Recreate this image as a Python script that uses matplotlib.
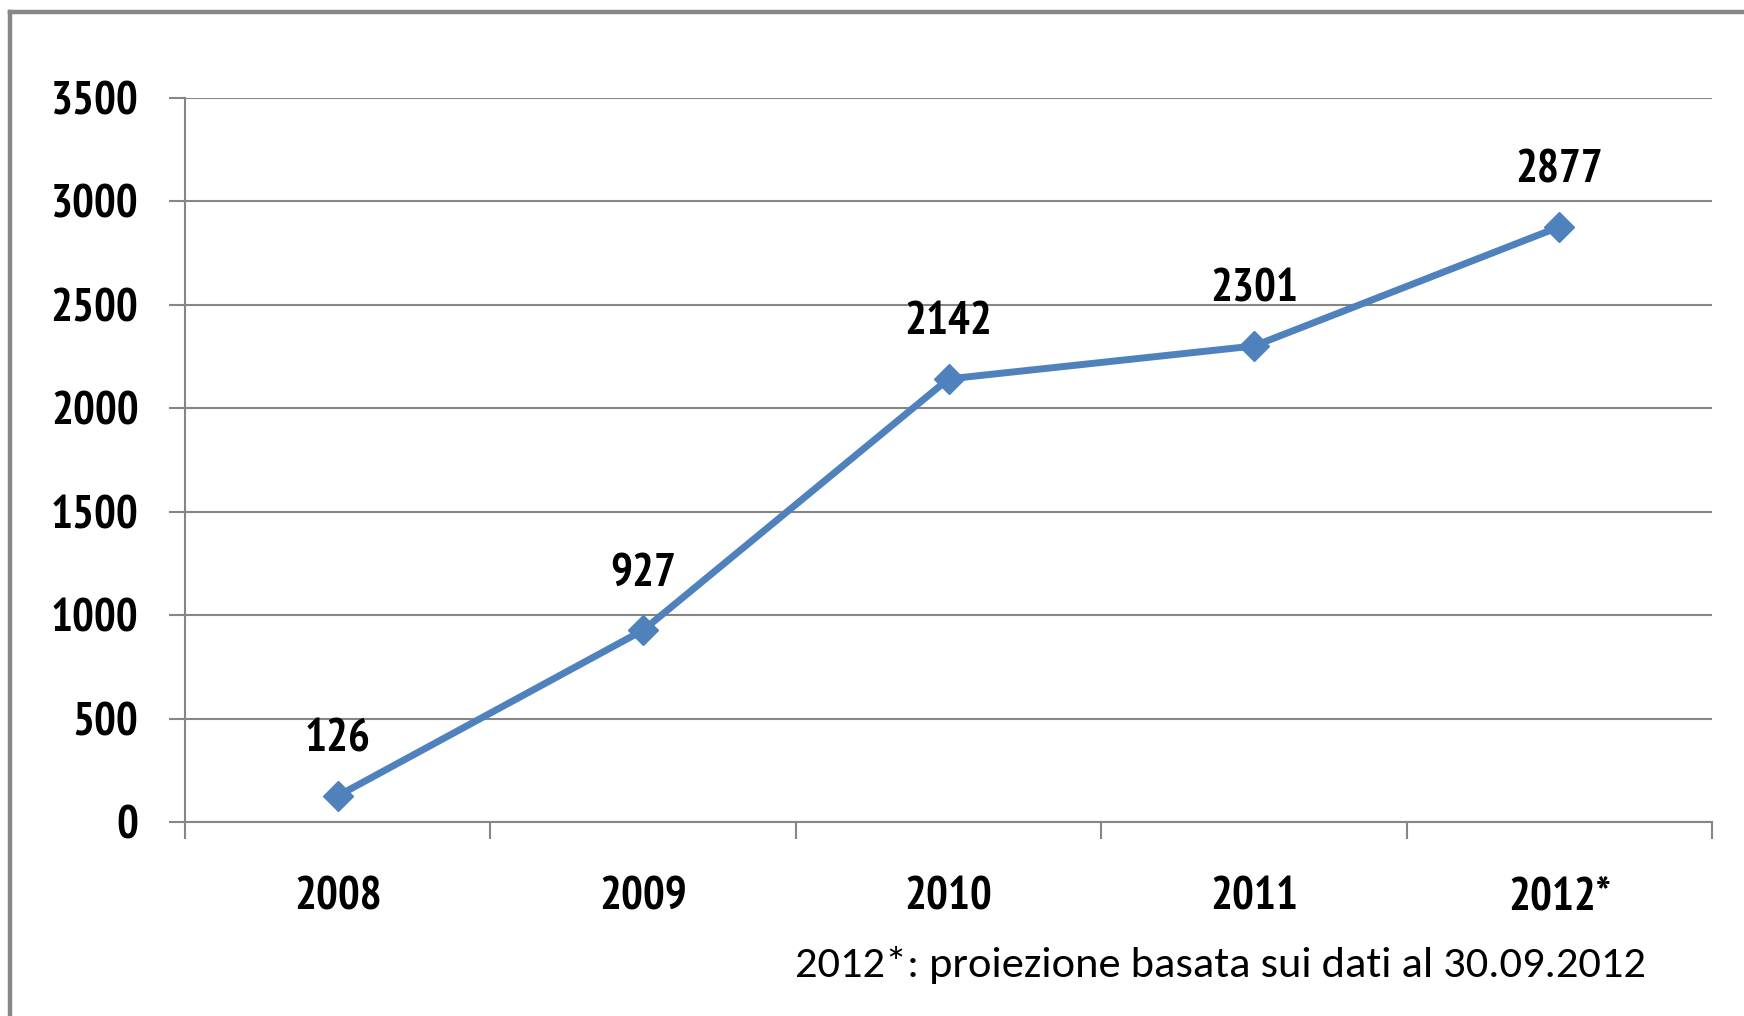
import matplotlib
matplotlib.use("Agg")
import matplotlib.pyplot as plt
from matplotlib.lines import Line2D

categories = ["2008", "2009", "2010", "2011", "2012*"]
values = [126, 927, 2142, 2301, 2877]
yticks = [0, 500, 1000, 1500, 2000, 2500, 3000, 3500]
footnote = "2012*: proiezione basata sui dati al 30.09.2012"

narrow = ["PT Sans Narrow", "Archivo Narrow", "DejaVu Sans"]
foot_font = ["Carlito", "Lato", "DejaVu Sans"]

W, H = 1744, 1016
fig = plt.figure(figsize=(W / 100, H / 100), dpi=100)
ax = fig.add_axes([185 / W, 1 - 822 / H, (1712 - 185) / W, (822 - 98) / H])

grid_c = "#868686"
blue = "#4F81BD"
x = list(range(len(categories)))
ax.plot(x, values, color=blue, lw=5, marker="D", ms=15.5, mec=blue, mfc=blue, zorder=3)

ax.set_xlim(-0.5, len(categories) - 0.5)
ax.set_ylim(0, 3500)
ax.set_yticks(yticks)
ax.set_yticklabels([str(v) for v in yticks])
ax.set_xticks(x)
ax.set_xticklabels(categories)
ax.set_xticks([i - 0.5 for i in range(len(categories) + 1)], minor=True)

ax.grid(axis="y", color=grid_c, lw=1.5, zorder=0)
for s in ["top", "right"]:
    ax.spines[s].set_visible(False)
for s in ["left", "bottom"]:
    ax.spines[s].set_color(grid_c)
    ax.spines[s].set_linewidth(1.5)

ax.tick_params(axis="y", length=11.5, width=1.5, color=grid_c, pad=22)
ax.tick_params(axis="x", which="major", length=0, pad=39)
ax.tick_params(axis="x", which="minor", length=12, width=1.5, color=grid_c)

for lab in ax.get_yticklabels() + ax.get_xticklabels():
    lab.set_fontfamily(narrow)
    lab.set_fontweight("bold")
    lab.set_fontsize(33)
    lab.set_color("black")

for xi, v in zip(x, values):
    ax.annotate(str(v), (xi, v), xytext=(0, 32), textcoords="offset points",
                ha="center", va="baseline", fontsize=33, fontweight="bold",
                fontfamily=narrow, color="black")

fig.text(1220 / W, 1 - 977 / H, footnote, fontsize=32, fontfamily=foot_font,
         ha="center", va="baseline", color="black")

border_c = "#878787"
fig.add_artist(Line2D([10 / W, 1.0], [1 - 12 / H, 1 - 12 / H], transform=fig.transFigure,
                      color=border_c, lw=3.2, solid_capstyle="projecting"))
fig.add_artist(Line2D([10 / W, 10 / W], [1 - 12 / H, 0.0], transform=fig.transFigure,
                      color=border_c, lw=3.2, solid_capstyle="projecting"))

fig.savefig("out.png", dpi=100)
